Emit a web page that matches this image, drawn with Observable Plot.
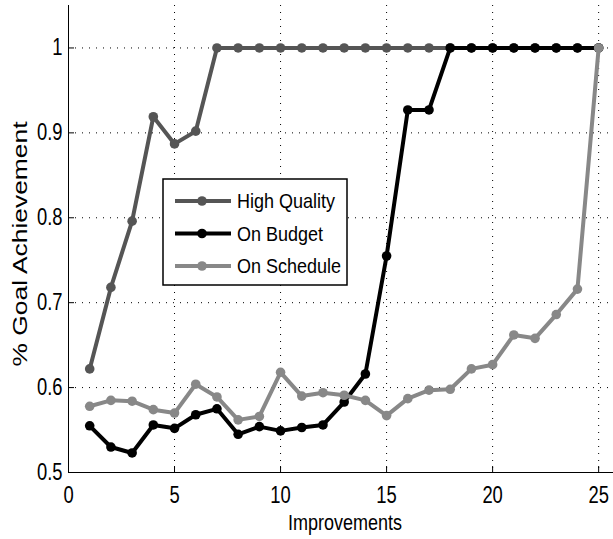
<!DOCTYPE html>
<html><head><meta charset="utf-8">
<script src="https://cdn.jsdelivr.net/npm/d3@7"></script>
<script src="https://cdn.jsdelivr.net/npm/@observablehq/plot@0.6"></script>
<style>body{margin:0;background:#fff} #chart{width:613px;height:539px}</style>
</head><body><div id="chart"></div>
<script>
const improvements = [1,2,3,4,5,6,7,8,9,10,11,12,13,14,15,16,17,18,19,20,21,22,23,24,25];
const highQuality = [0.622,0.718,0.796,0.919,0.887,0.902,1,1,1,1,1,1,1,1,1,1,1,1,1,1,1,1,1,1,1];
const onBudget = [0.555,0.530,0.523,0.556,0.552,0.568,0.575,0.545,0.554,0.549,0.553,0.556,0.583,0.616,0.755,0.927,0.927,1,1,1,1,1,1,1,1];
const onSchedule = [0.578,0.585,0.584,0.574,0.570,0.604,0.589,0.562,0.566,0.618,0.590,0.594,0.591,0.585,0.567,0.587,0.597,0.598,0.622,0.627,0.662,0.658,0.686,0.716,1.0];
const seriesNames = ["High Quality","On Budget","On Schedule"];
const seriesColors = ["#555555","#000000","#888888"];
const xTicks = [0,5,10,15,20,25];
const yTicks = [0.5,0.6,0.7,0.8,0.9,1];
const xLabel = "Improvements";
const yLabel = "% Goal Achievement";

const seriesValues = [highQuality, onBudget, onSchedule];
const rows = seriesNames.map((name, s) => improvements.map((x, i) => ({x, y: seriesValues[s][i], series: name})));

const gridStyle = {stroke: "#000", strokeOpacity: 1, strokeWidth: 1, strokeDasharray: "1,6"};
const seriesMarks = [];
seriesNames.forEach((name, s) => {
  seriesMarks.push(Plot.line(rows[s], {x: "x", y: "y", stroke: seriesColors[s], strokeWidth: 4, strokeLinejoin: "round"}));
  seriesMarks.push(Plot.dot(rows[s], {x: "x", y: "y", fill: seriesColors[s], r: 4.8}));
});

const plot = Plot.plot({
  width: 613, height: 539,
  marginLeft: 68, marginRight: 0, marginTop: 5, marginBottom: 67,
  style: {fontFamily: "'Liberation Sans', Arial, sans-serif", fontSize: "23px", background: "#fff", color: "#000", overflow: "visible"},
  x: {domain: [0, 25.7]},
  y: {domain: [0.5, 1.05]},
  marks: [
    Plot.gridX(xTicks.filter(d => d > 0), gridStyle),
    Plot.gridY(yTicks.filter(d => d > 0.5), gridStyle),
    Plot.axisX({ticks: xTicks, tickSize: 0, tickPadding: 14, tickFormat: d => String(d), label: null}),
    Plot.axisY({ticks: yTicks, tickSize: 0, tickPadding: 6, tickFormat: d => String(d), label: null}),
    Plot.tickX(xTicks, {x: d => d, insetTop: 461, stroke: "#000"}),
    Plot.tickY(yTicks, {y: d => d, insetRight: 539, stroke: "#000"}),
    Plot.ruleX([0], {stroke: "#000"}),
    Plot.ruleY([0.5], {stroke: "#000"}),
    ...seriesMarks
  ]
});

document.getElementById("chart").appendChild(plot);
const svg = d3.select(plot);

// condense tick labels like the reference
plot.querySelectorAll('g[aria-label="x-axis tick label"] text, g[aria-label="y-axis tick label"] text').forEach(el => {
  el.setAttribute("transform", (el.getAttribute("transform") || "") + " scale(0.8,1)");
});

// axis titles
svg.append("text")
  .attr("transform", "translate(345,530) scale(0.82,1)")
  .attr("text-anchor", "middle")
  .attr("font-size", 22)
  .attr("fill", "#000")
  .text(xLabel);
svg.append("text")
  .attr("transform", "translate(27,244) rotate(-90)")
  .attr("text-anchor", "middle")
  .attr("font-size", 19.5)
  .attr("textLength", 245)
  .attr("lengthAdjust", "spacingAndGlyphs")
  .attr("fill", "#000")
  .text(yLabel);

// legend
const lg = svg.append("g").attr("aria-label", "legend");
lg.append("rect").attr("x", 163).attr("y", 179).attr("width", 184).attr("height", 106)
  .attr("fill", "#fff").attr("stroke", "#000").attr("stroke-width", 1.5);
seriesNames.forEach((name, i) => {
  const cy = 201 + i * 32.5;
  lg.append("line").attr("x1", 175).attr("x2", 231).attr("y1", cy).attr("y2", cy)
    .attr("stroke", seriesColors[i]).attr("stroke-width", 4);
  lg.append("circle").attr("cx", 202).attr("cy", cy).attr("r", 4.8).attr("fill", seriesColors[i]);
  lg.append("text").attr("transform", `translate(237,${cy}) scale(0.9,1)`)
    .attr("text-anchor", "start")
    .attr("dy", "0.36em").attr("font-size", 20).attr("fill", "#000").text(name);
});
</script>
</body></html>
